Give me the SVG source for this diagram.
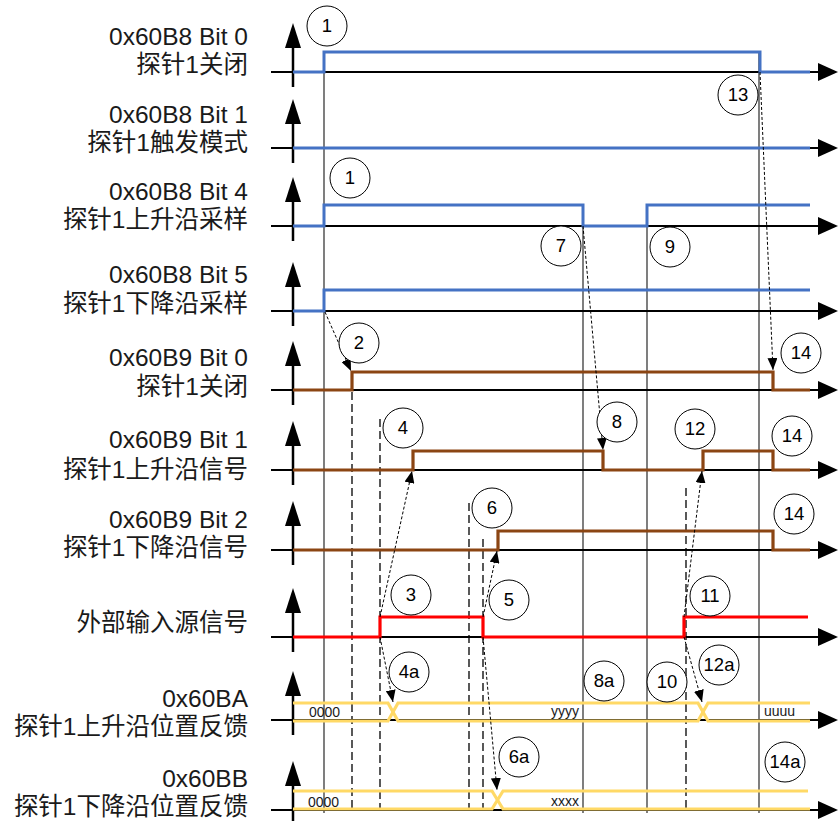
<svg xmlns="http://www.w3.org/2000/svg" width="839" height="821" viewBox="0 0 839 821">
<style>
.lbl{font-family:"Liberation Sans","Noto Sans CJK SC",sans-serif;font-size:24.5px;fill:#1a1a1a;text-anchor:end}
.axis{stroke:#000;stroke-width:2;fill:none}
.ah{fill:#000}
.blue{stroke:#4472C4;stroke-width:3;fill:none}
.brown{stroke:#8B4513;stroke-width:3.2;fill:none}
.red{stroke:#FF0000;stroke-width:3.2;fill:none}
.yel{stroke:#FFD966;stroke-width:3.2;fill:none}
.vs{stroke:#3a3a3a;stroke-width:1.3}
.vd{stroke:#000;stroke-width:1.3;stroke-dasharray:8,4}
.dot{stroke:#000;stroke-width:1;stroke-dasharray:3,2;fill:none;marker-end:url(#arr)}
.cir{fill:#fff;stroke:#000;stroke-width:1}
.num{font-family:"Liberation Sans",sans-serif;font-size:18.5px;fill:#000;text-anchor:middle}
.bus{font-family:"Liberation Sans",sans-serif;font-size:14px;fill:#1a1a1a}
</style>
<defs>
<marker id="arr" markerUnits="userSpaceOnUse" markerWidth="12" markerHeight="10" refX="12" refY="5" orient="auto">
<path d="M0,0 L12,5 L0,10 z" fill="#000"/>
</marker>
<g id="upArrow"><line x1="0" y1="15" x2="0" y2="-26" stroke="#000" stroke-width="2.5"/><polygon points="-8,-24 0,-49 8,-24" fill="#000"/></g>
<g id="rtArrow"><line x1="271" y1="0" x2="822" y2="0" stroke="#000" stroke-width="2"/><polygon points="818,-9 838,0 818,9" fill="#000"/></g>
</defs>
<rect width="839" height="821" fill="#fff"/>

<g id="verticals">
<line class="vs" x1="324" y1="52" x2="324" y2="813"/>
<line class="vs" x1="583" y1="205" x2="583" y2="813"/>
<line class="vs" x1="647" y1="205" x2="647" y2="813"/>
<line class="vs" x1="759" y1="52" x2="759" y2="813"/>
<line class="vd" x1="352" y1="392" x2="352" y2="810"/>
<line class="vd" x1="380" y1="419" x2="380" y2="810"/>
<line class="vd" x1="469" y1="503" x2="469" y2="810"/>
<line class="vd" x1="483" y1="539" x2="483" y2="810"/>
<line class="vd" x1="686" y1="488" x2="686" y2="810"/>
</g>

<g id="row1">
<text class="lbl" x="248" y="45">0x60B8 Bit 0</text>
<text class="lbl" x="248" y="73">探针1关闭</text>
<use href="#rtArrow" y="72"/><use href="#upArrow" x="293" y="72"/>
<path class="blue" d="M293,72 H324 V52 H760 V72 H810"/>
</g>
<g id="row2">
<text class="lbl" x="248" y="123">0x60B8 Bit 1</text>
<text class="lbl" x="248" y="151">探针1触发模式</text>
<use href="#rtArrow" y="148"/><use href="#upArrow" x="293" y="148"/>
<path class="blue" d="M293,148 H810"/>
</g>
<g id="row3">
<text class="lbl" x="248" y="200">0x60B8 Bit 4</text>
<text class="lbl" x="248" y="228">探针1上升沿采样</text>
<use href="#rtArrow" y="226"/><use href="#upArrow" x="293" y="226"/>
<path class="blue" d="M293,226 H324 V205 H583 V226 H647 V205 H810"/>
</g>
<g id="row4">
<text class="lbl" x="248" y="283">0x60B8 Bit 5</text>
<text class="lbl" x="248" y="312">探针1下降沿采样</text>
<use href="#rtArrow" y="311"/><use href="#upArrow" x="293" y="311"/>
<path class="blue" d="M293,311 H324 V290 H810"/>
</g>
<g id="row5">
<text class="lbl" x="248" y="366">0x60B9 Bit 0</text>
<text class="lbl" x="248" y="395">探针1关闭</text>
<use href="#rtArrow" y="390"/><use href="#upArrow" x="293" y="390"/>
<path class="brown" d="M293,390 H352 V372 H773 V390 H810"/>
</g>
<g id="row6">
<text class="lbl" x="248" y="448">0x60B9 Bit 1</text>
<text class="lbl" x="248" y="478">探针1上升沿信号</text>
<use href="#rtArrow" y="470"/><use href="#upArrow" x="293" y="470"/>
<path class="brown" d="M293,470 H413 V451 H603 V470 H703 V451 H773 V470 H810"/>
</g>
<g id="row7">
<text class="lbl" x="248" y="528">0x60B9 Bit 2</text>
<text class="lbl" x="248" y="556">探针1下降沿信号</text>
<use href="#rtArrow" y="550"/><use href="#upArrow" x="293" y="550"/>
<path class="brown" d="M293,550 H498 V531 H773 V550 H810"/>
</g>
<g id="row8">
<text class="lbl" x="248" y="631">外部输入源信号</text>
<use href="#rtArrow" y="637"/><use href="#upArrow" x="293" y="637"/>
<path class="red" d="M293,637 H380 V617 H483 V637 H684 V617 H808"/>
</g>
<g id="row9">
<text class="lbl" x="248" y="707">0x60BA</text>
<text class="lbl" x="248" y="735">探针1上升沿位置反馈</text>
<use href="#rtArrow" y="720"/><use href="#upArrow" x="293" y="720"/>
<path class="yel" d="M293,703 H388 L398,721 H698 L708,703 H810"/>
<path class="yel" d="M293,721 H388 L398,703 H698 L708,721 H810"/>
<text class="bus" x="309" y="717">0000</text>
<text class="bus" x="551" y="716">yyyy</text>
<text class="bus" x="764" y="716">uuuu</text>
</g>
<g id="row10">
<text class="lbl" x="248" y="787">0x60BB</text>
<text class="lbl" x="248" y="815">探针1下降沿位置反馈</text>
<use href="#rtArrow" y="810"/><use href="#upArrow" x="293" y="810"/>
<path class="yel" d="M293,791 H492 L503,809 H810"/>
<path class="yel" d="M293,809 H492 L503,791 H808"/>
<text class="bus" x="308" y="807">0000</text>
<text class="bus" x="551" y="806">xxxx</text>
</g>

<g id="connectors">
<line class="dot" x1="325" y1="312" x2="351" y2="371"/>
<line class="dot" x1="760" y1="72" x2="773" y2="370"/>
<line class="dot" x1="583" y1="226" x2="603" y2="450"/>
<line class="dot" x1="380" y1="617" x2="412" y2="471"/>
<line class="dot" x1="380" y1="637" x2="393" y2="702"/>
<line class="dot" x1="483" y1="617" x2="497" y2="551"/>
<line class="dot" x1="483" y1="637" x2="497" y2="790"/>
<line class="dot" x1="684" y1="617" x2="702" y2="471"/>
<line class="dot" x1="684" y1="637" x2="702" y2="702"/>
</g>

<g id="callouts">
<g id="c1a"><circle class="cir" cx="327" cy="26" r="20"/><text class="num" x="327" y="32">1</text></g>
<g id="c13"><circle class="cir" cx="738" cy="95" r="20"/><text class="num" x="738" y="101">13</text></g>
<g id="c1b"><circle class="cir" cx="350" cy="178" r="20"/><text class="num" x="350" y="184">1</text></g>
<g id="c7"><circle class="cir" cx="561" cy="246" r="20"/><text class="num" x="561" y="252">7</text></g>
<g id="c9"><circle class="cir" cx="670" cy="247" r="20"/><text class="num" x="670" y="253">9</text></g>
<g id="c2"><circle class="cir" cx="359" cy="343" r="20"/><text class="num" x="359" y="349">2</text></g>
<g id="c14a"><circle class="cir" cx="801" cy="353" r="20"/><text class="num" x="801" y="359">14</text></g>
<g id="c4"><circle class="cir" cx="403" cy="428" r="20"/><text class="num" x="403" y="434">4</text></g>
<g id="c8"><circle class="cir" cx="617" cy="422" r="20"/><text class="num" x="617" y="428">8</text></g>
<g id="c12"><circle class="cir" cx="695" cy="429" r="20"/><text class="num" x="695" y="435">12</text></g>
<g id="c14b"><circle class="cir" cx="792" cy="436" r="20"/><text class="num" x="792" y="442">14</text></g>
<g id="c6"><circle class="cir" cx="492" cy="508" r="20"/><text class="num" x="492" y="514">6</text></g>
<g id="c14c"><circle class="cir" cx="794" cy="514" r="20"/><text class="num" x="794" y="520">14</text></g>
<g id="c3"><circle class="cir" cx="411" cy="595" r="20"/><text class="num" x="411" y="601">3</text></g>
<g id="c5"><circle class="cir" cx="509" cy="600" r="20"/><text class="num" x="509" y="606">5</text></g>
<g id="c11"><circle class="cir" cx="710" cy="596" r="20"/><text class="num" x="710" y="602">11</text></g>
<g id="c4a"><circle class="cir" cx="409" cy="672" r="20"/><text class="num" x="409" y="678">4a</text></g>
<g id="c8a"><circle class="cir" cx="604" cy="681" r="20"/><text class="num" x="604" y="687">8a</text></g>
<g id="c10"><circle class="cir" cx="667" cy="682" r="20"/><text class="num" x="667" y="688">10</text></g>
<g id="c12a"><circle class="cir" cx="719" cy="665" r="20"/><text class="num" x="719" y="671">12a</text></g>
<g id="c6a"><circle class="cir" cx="519" cy="757" r="20"/><text class="num" x="519" y="763">6a</text></g>
<g id="c14d"><circle class="cir" cx="785" cy="762" r="20"/><text class="num" x="785" y="768">14a</text></g>
</g>
</svg>
